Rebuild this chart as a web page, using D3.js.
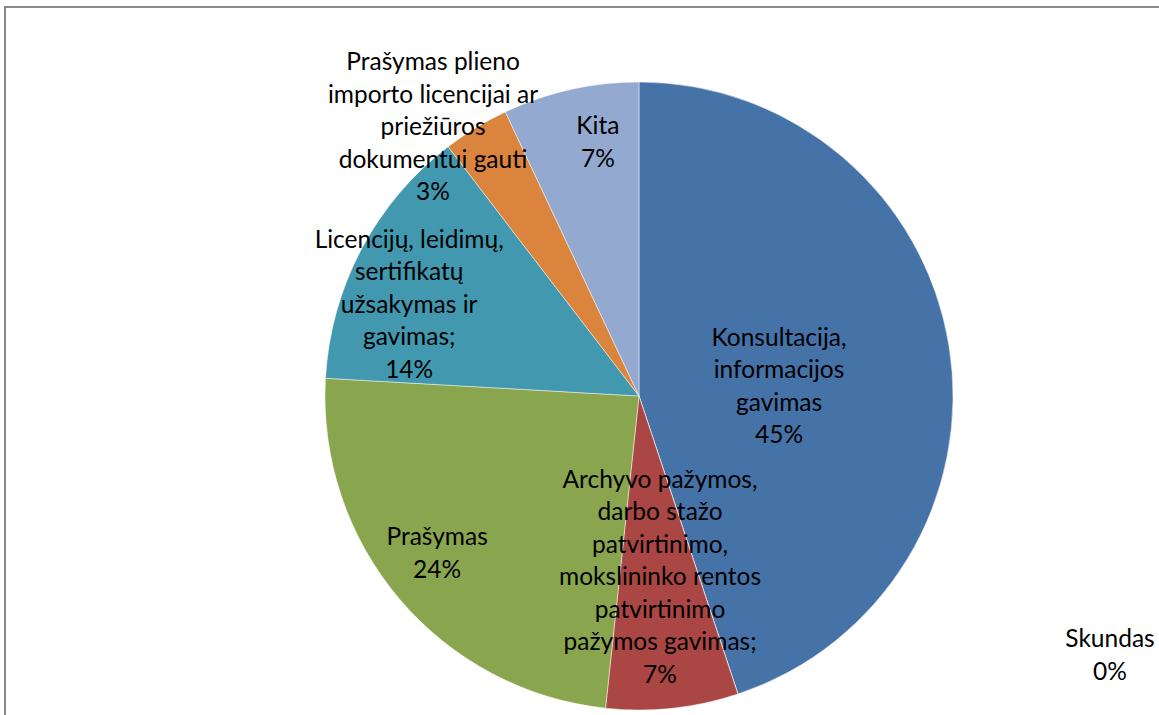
<!DOCTYPE html>
<html>
<head>
<meta charset="utf-8">
<script src="https://cdn.jsdelivr.net/npm/d3@7"></script>
<style>
  body { margin: 0; background: #fff; }
  text { font-family: Lato, "Open Sans", sans-serif; font-size: 24.5px; fill: #000; }
</style>
</head>
<body>
<div class="chart"></div>
<script>
// slices, clockwise from 12 o'clock
var categories = [
    "Konsultacija, informacijos gavimas",
    "Skundas",
    "Archyvo pažymos, darbo stažo patvirtinimo, mokslininko rentos patvirtinimo pažymos gavimas;",
    "Prašymas",
    "Licencijų, leidimų, sertifikatų užsakymas ir gavimas;",
    "Prašymas plieno importo licencijai ar priežiūros dokumentui gauti",
    "Kita"
]
var values = [44.9, 0, 6.8, 24.2, 13.7, 3.4, 7.0]
var colors = ["#4572A7", "#71588F", "#AA4643", "#89A54E", "#4198AF", "#DB843D", "#93A9CF"]

// label line breaks as in the original
var labelLines = [
    ["Konsultacija,", "informacijos", "gavimas"],
    ["Skundas"],
    ["Archyvo pažymos,", "darbo stažo", "patvirtinimo,", "mokslininko rentos", "patvirtinimo", "pažymos gavimas;"],
    ["Prašymas"],
    ["Licencijų, leidimų,", "sertifikatų", "užsakymas ir", "gavimas;"],
    ["Prašymas plieno", "importo licencijai ar", "priežiūros", "dokumentui gauti"],
    ["Kita"]
]

var width = 1159, height = 715
var cx = 639, cy = 396, R = 314
var lineH = 32.5

// label block centres, as fractions of the radius from the pie centre
var labelPos = [
    [0.446, -0.032],
    [1.5, 0.825],
    [0.067, 0.576],
    [-0.643, 0.5],
    [-0.732, -0.293],
    [-0.656, -0.857],
    [-0.131, -0.809]
]

var data = categories.map((c, i) => ({ name: c, value: values[i], color: colors[i], lines: labelLines[i], pos: labelPos[i] }))
var total = d3.sum(values)

var svg = d3.select('.chart')
    .append('svg')
    .attr('width', width)
    .attr('height', height)

// chart frame
svg.append('rect')
    .attr('x', 5)
    .attr('y', 7)
    .attr('width', 1300)
    .attr('height', 900)
    .attr('fill', 'none')
    .attr('stroke', '#898989')
    .attr('stroke-width', 2)

var pie = d3.pie().value(d => d.value).sort(null)
var arc = d3.arc().innerRadius(0).outerRadius(R)

var g = svg.append('g')
    .attr('transform', 'translate(' + cx + ',' + cy + ')')

g.selectAll('path')
    .data(pie(data))
    .enter()
    .append('path')
    .attr('d', arc)
    .attr('fill', d => d.data.color)
    .attr('stroke', '#fff')
    .attr('stroke-opacity', 0.6)
    .attr('stroke-width', 0.8)

var labels = g.selectAll('text.lbl')
    .data(data)
    .enter()
    .append('text')
    .attr('class', 'lbl')
    .attr('text-anchor', 'middle')

labels.each(function (d) {
    var lines = d.lines.concat([Math.round(d.value / total * 100) + '%'])
    var x = d.pos[0] * R
    var y0 = d.pos[1] * R - (lines.length - 1) * lineH / 2
    d3.select(this).selectAll('tspan')
        .data(lines)
        .enter()
        .append('tspan')
        .attr('x', x)
        .attr('y', (t, i) => y0 + i * lineH)
        .attr('dy', '0.35em')
        .text(t => t)
})
</script>
</body>
</html>
